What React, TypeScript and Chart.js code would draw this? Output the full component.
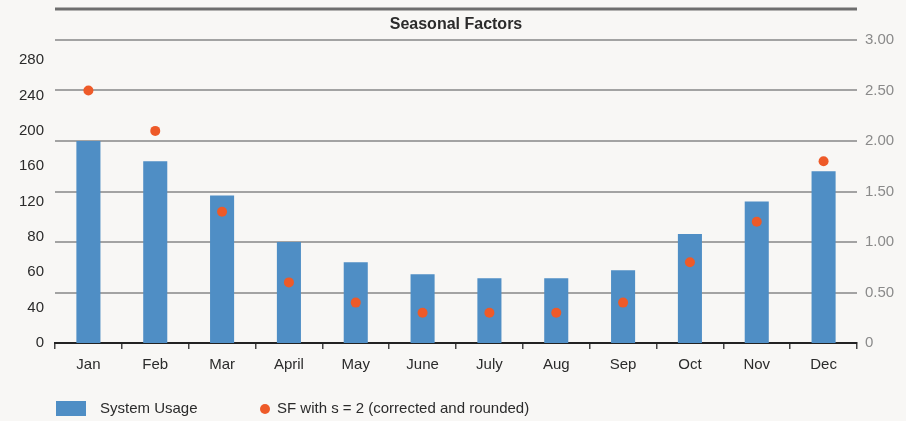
import React, { useEffect, useRef } from "react";
import { Chart, registerables } from "chart.js";

Chart.register(...registerables);

const months = ["Jan", "Feb", "Mar", "April", "May", "June", "July", "Aug", "Sep", "Oct", "Nov", "Dec"];
const systemUsage = [200, 180, 146, 100, 80, 68, 64, 64, 72, 108, 140, 170];
const seasonalFactors = [2.5, 2.1, 1.3, 0.6, 0.4, 0.3, 0.3, 0.3, 0.4, 0.8, 1.2, 1.8];
const leftTickPositions = [0, 35, 70, 105, 140, 175, 210, 245, 280];
const leftTickLabels = ["0", "40", "60", "80", "120", "160", "200", "240", "280"];
const titleText = "Seasonal Factors";
const usageLabel = "System Usage";
const sfLabel = "SF with s = 2 (corrected and rounded)";

const FONT = "'Liberation Sans', Arial, sans-serif";
const BLUE = "#4f8ec5";
const ORANGE = "#ee5a28";
const TEXT = "#2b2b2b";

const decorPlugin = {
  id: "decor",
  afterDraw(chart: any) {
    const { ctx, chartArea } = chart;
    ctx.save();
    // thick top rule
    ctx.strokeStyle = "#6e6e6e";
    ctx.lineWidth = 3;
    ctx.beginPath();
    ctx.moveTo(chartArea.left, chartArea.top - 31);
    ctx.lineTo(chartArea.right, chartArea.top - 31);
    ctx.stroke();
    // legend
    const ly = chartArea.bottom + 66;
    ctx.fillStyle = BLUE;
    ctx.fillRect(chartArea.left + 1, ly - 8, 30, 15);
    ctx.font = `15px ${FONT}`;
    ctx.textBaseline = "middle";
    ctx.textAlign = "left";
    ctx.fillStyle = TEXT;
    ctx.fillText(usageLabel, chartArea.left + 45, ly);
    ctx.fillStyle = ORANGE;
    ctx.beginPath();
    ctx.arc(chartArea.left + 210, ly, 5, 0, Math.PI * 2);
    ctx.fill();
    ctx.fillStyle = TEXT;
    ctx.fillText(sfLabel, chartArea.left + 222, ly);
    ctx.restore();
  },
};

export default function App() {
  const ref = useRef<HTMLCanvasElement>(null);
  useEffect(() => {
    if (!ref.current) return;
    Chart.defaults.font.family = FONT;
    const chart = new Chart(ref.current, {
      data: {
        labels: months,
        datasets: [
          {
            type: "line",
            label: sfLabel,
            data: seasonalFactors,
            yAxisID: "y1",
            showLine: false,
            pointRadius: 5,
            pointHoverRadius: 5,
            pointBackgroundColor: ORANGE,
            pointBorderWidth: 0,
            borderColor: ORANGE,
            backgroundColor: ORANGE,
            order: 0,
          },
          {
            type: "bar",
            label: usageLabel,
            data: systemUsage,
            yAxisID: "y",
            backgroundColor: BLUE,
            borderWidth: 0,
            categoryPercentage: 1,
            barPercentage: 0.36,
            order: 1,
          },
        ],
      } as any,
      options: {
        animation: false,
        responsive: true,
        maintainAspectRatio: false,
        layout: { padding: { top: 0, left: 0, right: 0, bottom: 30 } },
        plugins: {
          legend: { display: false },
          tooltip: { enabled: false },
          title: {
            display: true,
            text: titleText,
            fullSize: false,
            color: TEXT,
            font: { size: 16, weight: "bold", family: FONT, lineHeight: 1.2 },
            padding: { top: 15.4, bottom: 5.4 },
          },
        },
        scales: {
          x: {
            offset: true,
            grid: {
              offset: true,
              drawOnChartArea: false,
              drawTicks: true,
              tickLength: 6,
              color: "#444",
              lineWidth: 1.5,
            },
            border: { display: true, color: "#222", width: 2 },
            ticks: { color: TEXT, font: { size: 15 }, padding: 7, autoSkip: false, maxRotation: 0 },
            afterFit(scale: any) {
              scale.height = 48;
            },
          },
          y: {
            position: "left",
            min: 0,
            max: 300,
            grid: { display: false, drawOnChartArea: false, drawTicks: false },
            border: { display: false },
            afterBuildTicks(scale: any) {
              scale.ticks = leftTickPositions.map((v) => ({ value: v }));
            },
            ticks: {
              color: TEXT,
              font: { size: 15 },
              padding: 11,
              autoSkip: false,
              callback: (_v: any, i: number) => leftTickLabels[i],
            },
            afterFit(scale: any) {
              scale.width = 55;
            },
          },
          y1: {
            position: "right",
            min: 0,
            max: 3,
            grid: { drawOnChartArea: true, drawTicks: false, color: "#a3a3a3", lineWidth: 2 },
            border: { display: false },
            ticks: {
              stepSize: 0.5,
              color: "#8a8a8a",
              font: { size: 15 },
              padding: 8,
              callback: (v: any) => (Number(v) === 0 ? "0" : Number(v).toFixed(2)),
            },
            afterFit(scale: any) {
              scale.width = 49;
            },
          },
        },
      } as any,
      plugins: [decorPlugin],
    });
    return () => chart.destroy();
  }, []);

  return (
    <div style={{ position: "fixed", left: 0, top: 0, width: 906, height: 421, background: "#f8f7f5" }}>
      <canvas ref={ref} />
    </div>
  );
}
